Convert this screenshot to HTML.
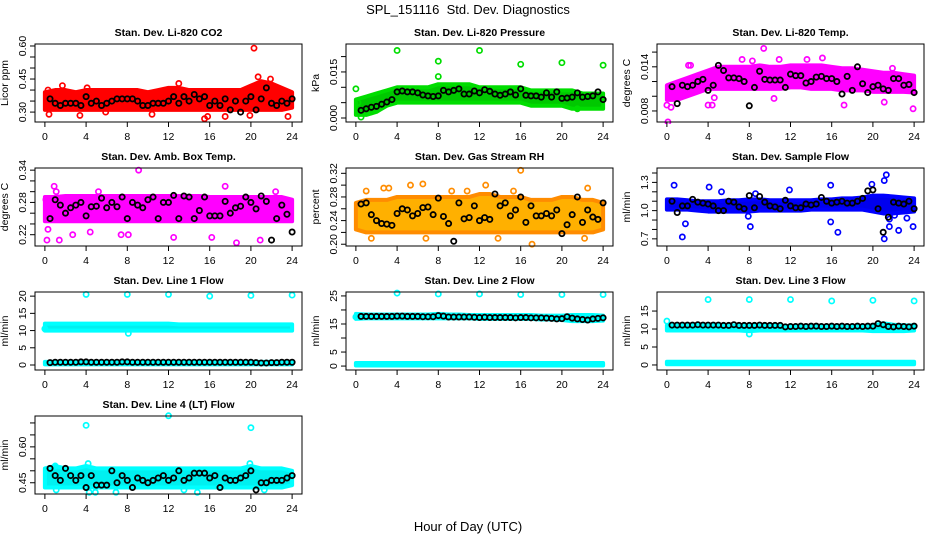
<!DOCTYPE html>
<html><head><meta charset="utf-8">
<style>
html,body{margin:0;padding:0;background:#fff;}
svg{display:block;font-family:"Liberation Sans",sans-serif;}
</style></head>
<body>
<svg id="chart" width="936" height="540" viewBox="0 0 936 540" xmlns="http://www.w3.org/2000/svg">
<text x="468" y="14" text-anchor="middle" font-size="13" style="white-space:pre">SPL_151116  Std. Dev. Diagnostics</text>
<text x="468" y="531" text-anchor="middle" font-size="13">Hour of Day (UTC)</text>
</svg>
<script>
// ---------- data (estimated from reference) ----------
const hours = [0,1,2,3,4,5,6,7,8,9,10,11,12,13,14,15,16,17,18,19,20,21,22,23,24];
const xTicks = [0,4,8,12,16,20,24];

const co2Lo = [0.31,0.31,0.31,0.31,0.31,0.31,0.31,0.31,0.31,0.31,0.31,0.31,0.31,0.31,0.31,0.31,0.31,0.31,0.31,0.31,0.31,0.31,0.31,0.31,0.32];
const co2Hi = [0.39,0.40,0.40,0.39,0.40,0.40,0.40,0.40,0.40,0.40,0.39,0.40,0.41,0.41,0.40,0.40,0.40,0.40,0.40,0.40,0.42,0.44,0.43,0.41,0.39];
const co2OutX = [20.3,0.3,0.4,3.4,15.5,15.8,17.5,19.9,23.6,4.1,1.7,13.0,20.7,21.9,5.9,10.4];
const co2OutY = [0.59,0.40,0.29,0.285,0.27,0.28,0.28,0.285,0.28,0.41,0.42,0.43,0.46,0.45,0.30,0.29];
const co2Black = [null,0.36,0.34,0.33,0.34,0.34,0.34,0.33,0.37,0.34,0.35,0.33,0.34,0.35,0.36,0.36,0.36,0.36,0.35,0.33,0.33,0.34,0.34,0.34,0.35,0.37,0.34,0.37,0.35,0.38,0.36,0.37,0.33,0.35,0.33,0.36,0.31,0.35,0.30,0.35,0.37,0.31,0.36,0.41,0.34,0.33,0.35,0.34,0.36];

const presLo = [0.001,0.001,0.002,0.004,0.005,0.005,0.005,0.005,0.005,0.005,0.005,0.005,0.005,0.005,0.005,0.005,0.005,0.004,0.004,0.004,0.004,0.003,0.003,0.003,0.003];
const presHi = [0.006,0.007,0.008,0.009,0.010,0.010,0.010,0.010,0.011,0.011,0.011,0.011,0.010,0.010,0.010,0.010,0.010,0.009,0.009,0.009,0.009,0.009,0.008,0.008,0.008];
const presOutX = [4,12,8,8,16,20,24,0,0.5,21.5,1.5,0.2];
const presOutY = [0.022,0.022,0.0185,0.0135,0.0175,0.018,0.0172,0.0095,0.0003,0.003,0.002,0.005];
const presBlack = [null,0.0025,0.003,0.0035,0.0038,0.0045,0.0052,0.006,0.0085,0.0088,0.0085,0.0085,0.0082,0.0075,0.0072,0.007,0.0072,0.009,0.0085,0.009,0.0095,0.0078,0.0078,0.0088,0.0082,0.0092,0.0087,0.0078,0.0074,0.0078,0.0085,0.0075,0.0095,0.0074,0.0072,0.0072,0.0068,0.0082,0.0068,0.0085,0.0064,0.0065,0.0068,0.0082,0.0068,0.0070,0.0072,0.0085,0.006];

const tmpLo = [0.0095,0.0095,0.0100,0.0105,0.0110,0.0110,0.0110,0.0110,0.0110,0.0110,0.0110,0.0110,0.0112,0.0112,0.0110,0.0110,0.0110,0.0108,0.0108,0.0108,0.0106,0.0106,0.0106,0.0106,0.0105];
const tmpHi = [0.0115,0.0120,0.0125,0.0130,0.0135,0.0140,0.0140,0.0140,0.0140,0.0142,0.0140,0.0140,0.0142,0.0142,0.0142,0.0142,0.0140,0.0138,0.0138,0.0136,0.0134,0.0132,0.0132,0.0130,0.0128];
const tmpOutX = [0.1,0,0.4,9.4,4,4.4,4.6,7.3,10.9,13.6,15.1,23.9,17.2,21.1,10.4,21.9,2.1,2.3,8.3];
const tmpOutY = [0.0065,0.0088,0.0085,0.0165,0.0088,0.0088,0.0098,0.0150,0.0150,0.0150,0.0152,0.0083,0.0088,0.0092,0.0097,0.0138,0.0142,0.0142,0.0148];
const tmpBlack = [null,0.0113,0.0090,0.0115,0.0113,0.0115,0.0120,0.0123,0.0108,0.0115,0.0142,0.0135,0.0125,0.0125,0.0124,0.0120,0.0087,0.0112,0.0134,0.0123,0.0122,0.0122,0.0122,0.0112,0.0130,0.0128,0.0128,0.0118,0.0120,0.0126,0.0127,0.0124,0.0124,0.0120,0.0103,0.0127,0.0108,0.0140,0.0117,0.0105,0.0113,0.0115,0.0110,0.0108,0.0124,0.0124,0.0115,0.0116,0.0105];

const ambLo = [0.245,0.245,0.245,0.245,0.245,0.245,0.245,0.245,0.245,0.245,0.245,0.245,0.245,0.245,0.245,0.245,0.245,0.245,0.245,0.245,0.245,0.245,0.245,0.245,0.245];
const ambHi = [0.290,0.290,0.292,0.292,0.292,0.292,0.292,0.292,0.292,0.292,0.292,0.292,0.292,0.292,0.292,0.292,0.290,0.290,0.290,0.290,0.290,0.290,0.290,0.290,0.285];
const ambOutX = [0.2,0.9,1.1,9.1,1.4,2.7,17.5,18.6,12.5,16.2,20.9,4.4,7.4,8.1,22.4,5.2,0.3,0.1];
const ambOutY = [0.21,0.31,0.30,0.34,0.21,0.22,0.31,0.205,0.215,0.215,0.21,0.225,0.22,0.22,0.30,0.30,0.23,0.285];
const ambBlack = [null,0.250,0.285,0.275,0.260,0.270,0.275,0.280,0.255,0.272,0.273,0.288,0.270,0.280,0.272,0.290,0.250,0.280,0.275,0.270,0.285,0.290,0.250,0.280,0.280,0.293,0.250,0.292,0.290,0.250,0.265,0.290,0.255,0.255,0.255,0.282,0.260,0.270,0.273,0.290,0.280,0.268,0.292,0.282,0.210,0.250,0.275,0.258,0.225];

const rhLo = [0.225,0.22,0.22,0.22,0.22,0.22,0.22,0.22,0.22,0.22,0.22,0.22,0.22,0.22,0.22,0.22,0.22,0.22,0.22,0.22,0.22,0.22,0.22,0.22,0.225];
const rhHi = [0.270,0.275,0.275,0.275,0.280,0.280,0.280,0.280,0.280,0.280,0.280,0.280,0.285,0.285,0.280,0.280,0.280,0.275,0.275,0.275,0.280,0.280,0.275,0.275,0.270];
const rhOutX = [16,17.1,5.3,6.5,12.6,22.5,2.7,3.2,9.3,10.8,1.0,15.3,1.5,6.8,13.8,22.2];
const rhOutY = [0.325,0.20,0.30,0.302,0.30,0.295,0.295,0.295,0.29,0.29,0.29,0.29,0.21,0.21,0.21,0.21];
const rhBlack = [null,0.268,0.270,0.250,0.240,0.235,0.234,0.232,0.252,0.260,0.258,0.248,0.252,0.262,0.263,0.250,0.278,0.247,0.235,0.205,0.270,0.243,0.245,0.265,0.240,0.245,0.242,0.285,0.265,0.270,0.248,0.258,0.280,0.237,0.265,0.248,0.248,0.252,0.248,0.258,0.218,0.233,0.250,0.280,0.237,0.258,0.246,0.242,0.270];

const flowLo = [1.01,1.01,1.01,1.00,0.99,0.99,0.99,0.99,0.99,1.00,1.00,1.00,1.00,1.00,1.01,1.01,1.01,1.01,1.01,1.01,0.99,0.97,0.97,0.98,0.99];
const flowHi = [1.12,1.12,1.11,1.10,1.10,1.10,1.11,1.11,1.12,1.12,1.11,1.11,1.11,1.11,1.11,1.12,1.12,1.13,1.13,1.14,1.16,1.16,1.15,1.14,1.13];
const flowOutX = [0.7,1.5,1.8,4.1,5.3,7.9,8.1,8.6,11.9,15.9,15.9,16.6,19.9,21.1,21.3,21.1,21.6,22.5,23.9,22.1,23.3,21.6];
const flowOutY = [1.27,0.72,0.86,1.25,1.20,0.94,0.83,1.18,1.22,1.27,0.88,0.77,1.28,1.32,1.38,0.70,0.83,0.79,0.83,0.95,0.92,0.91];
const flowBlack = [null,1.10,0.98,1.05,1.05,1.12,1.09,1.08,1.07,1.05,1.00,1.00,1.10,1.09,1.04,1.02,1.16,1.03,1.15,1.09,1.05,1.04,1.02,1.11,1.05,1.03,1.03,1.07,1.06,1.07,1.14,1.10,1.08,1.09,1.10,1.08,1.08,1.10,1.13,1.21,1.22,1.02,0.77,0.93,1.09,1.08,1.07,1.10,1.02];

const l1Lo = [10,10,10,10,10,10,10,10,10,10,10,10,10,10,10,10,10,10,10,10,10,10,10,10,10];
const l1Hi = [12,12,12,12,12,12,12,12,12,12,12,12,12,11.8,11.8,11.8,11.8,11.8,11.8,11.8,11.8,11.8,11.8,11.8,11.8];
const l1Lo2 = [0.2,0.2,0.2,0.2,0.2,0.2,0.2,0.2,0.2,0.2,0.2,0.2,0.2,0.2,0.2,0.2,0.2,0.2,0.2,0.2,0.2,0.2,0.2,0.2,0.2];
const l1Hi2 = [0.9,0.9,0.9,0.9,0.9,0.9,0.9,0.9,0.9,0.9,0.9,0.9,0.9,0.9,0.9,0.9,0.9,0.9,0.9,0.9,0.9,0.9,0.9,0.9,0.9];
const l1OutX = [4,8,12,16,20,24,8.1,0];
const l1OutY = [20.5,20.5,20.5,20,20.2,20.3,9.2,10.5];
const l1Black = [null,0.7,0.8,0.8,0.8,0.8,0.8,0.9,0.9,0.8,0.8,0.8,0.8,0.8,0.8,0.9,0.9,0.8,0.8,0.8,0.8,0.8,0.8,0.8,0.8,0.8,0.8,0.8,0.8,0.8,0.8,0.8,0.8,0.8,0.8,0.8,0.8,0.8,0.8,0.8,0.8,0.7,0.6,0.6,0.7,0.7,0.8,0.8,0.8];

const l2Lo = [16.8,17,17,17,17,17,17,17,17,17,17,17,16.8,16.8,16.8,16.8,16.8,16.8,16.6,16.6,16.4,16,16,16,16.2];
const l2Hi = [18.6,18.4,18.4,18.4,18.4,18.4,18.4,18.4,18.6,18.4,18.4,18.2,18.2,18.2,18.2,18.2,18.2,18.2,18.0,18.0,18.0,18.2,18.2,18.2,18.0];
const l2Lo2 = [0.2,0.2,0.2,0.2,0.2,0.2,0.2,0.2,0.2,0.2,0.2,0.2,0.2,0.2,0.2,0.2,0.2,0.2,0.2,0.2,0.2,0.2,0.2,0.2,0.2];
const l2Hi2 = [1.1,1.1,1.1,1.1,1.1,1.1,1.1,1.1,1.1,1.1,1.1,1.1,1.1,1.1,1.1,1.1,1.1,1.1,1.1,1.1,1.1,1.1,1.1,1.1,1.1];
const l2OutX = [4,8,12,16,20,24,0];
const l2OutY = [26,25.7,25.7,25.5,25.5,25.5,17.5];
const l2Black = [null,17.7,17.7,17.7,17.7,17.7,17.7,17.7,17.8,17.8,17.7,17.7,17.7,17.6,17.6,17.6,18.0,17.8,17.5,17.5,17.5,17.5,17.5,17.4,17.3,17.4,17.3,17.3,17.3,17.3,17.3,17.2,17.3,17.3,17.2,17.2,17.2,17.1,17.0,16.8,16.9,17.6,17.1,16.8,16.6,16.4,16.8,17.0,17.2];

const l3Lo = [9.6,9.6,9.6,9.6,9.6,9.6,9.6,9.6,9.4,9.6,9.6,9.6,9.6,9.6,9.6,9.6,9.6,9.6,9.6,9.6,9.4,9.4,9.4,9.4,9.6];
const l3Hi = [11,11,11,11.2,11.2,11.2,11,11,11,11,11,10.8,10.8,10.8,10.8,10.8,10.8,10.8,10.8,10.8,11,11.6,11.2,11,11];
const l3Lo2 = [0.2,0.2,0.2,0.2,0.2,0.2,0.2,0.2,0.2,0.2,0.2,0.2,0.2,0.2,0.2,0.2,0.2,0.2,0.2,0.2,0.2,0.2,0.2,0.2,0.2];
const l3Hi2 = [0.9,0.9,0.9,0.9,0.9,0.9,0.9,0.9,0.9,0.9,0.9,0.9,0.9,0.9,0.9,0.9,0.9,0.9,0.9,0.9,0.9,0.9,0.9,0.9,0.9];
const l3OutX = [4,8,12,16,20,24,8,0];
const l3OutY = [18.2,18.2,18.2,17.8,18,17.8,8.6,12.2];
const l3Black = [null,11.1,11.1,11.1,11.1,11.1,11.2,11.1,11.1,11.1,11.1,11.0,11.0,11.2,11.0,11.0,11.0,11.0,11.1,11.0,11.0,11.0,11.0,10.6,10.7,10.7,10.8,10.7,10.8,10.8,10.7,10.7,10.8,10.7,10.8,10.7,10.7,10.8,10.7,10.8,10.8,11.5,11.2,10.7,10.6,10.8,10.7,10.6,10.8];

const l4Lo = [0.43,0.43,0.43,0.43,0.43,0.43,0.43,0.43,0.43,0.43,0.43,0.43,0.43,0.43,0.43,0.43,0.43,0.43,0.43,0.43,0.43,0.43,0.43,0.43,0.44];
const l4Hi = [0.51,0.52,0.51,0.51,0.52,0.51,0.51,0.51,0.51,0.51,0.51,0.51,0.51,0.51,0.51,0.51,0.51,0.51,0.51,0.51,0.52,0.51,0.51,0.51,0.50];
const l4OutX = [4,12,20,1.1,4.3,4.9,6.9,13.5,14.8,21.3,4.2,19.9,1.0];
const l4OutY = [0.69,0.73,0.68,0.42,0.41,0.41,0.41,0.42,0.41,0.42,0.53,0.53,0.52];
const l4Black = [null,0.51,0.48,0.46,0.51,0.48,0.46,0.48,0.43,0.48,0.44,0.44,0.44,0.50,0.45,0.48,0.46,0.43,0.47,0.46,0.45,0.46,0.47,0.48,0.46,0.47,0.50,0.46,0.47,0.49,0.49,0.49,0.47,0.48,0.43,0.47,0.46,0.46,0.47,0.48,0.50,0.42,0.45,0.45,0.46,0.46,0.46,0.47,0.48];

// ---------- panels (styling/layout only) ----------
const panels = [
 {col:0,row:0,title:"Stan. Dev. Li-820 CO2",ylab:"Licor ppm",ymin:0.255,ymax:0.609,ticks:[0.30,0.35,0.40,0.45,0.50,0.55,0.60],labels:[0.30,0.45,0.60],dec:2,color:"#ff0000",fill:"#ff0000",bands:[[co2Lo,co2Hi]],ox:co2OutX,oy:co2OutY,black:co2Black},
 {col:1,row:0,title:"Stan. Dev. Li-820 Pressure",ylab:"kPa",ymin:-0.0013,ymax:0.0241,ticks:[0,0.005,0.010,0.015,0.020],labels:[0,0.015],dec:3,color:"#00dd00",fill:"#00c800",bands:[[presLo,presHi]],ox:presOutX,oy:presOutY,black:presBlack},
 {col:2,row:0,title:"Stan. Dev. Li-820 Temp.",ylab:"degrees C",ymin:0.0065,ymax:0.0171,ticks:[0.008,0.010,0.012,0.014,0.016],labels:[0.008,0.014],dec:3,color:"#ff00ff",fill:"#ff00ff",bands:[[tmpLo,tmpHi]],ox:tmpOutX,oy:tmpOutY,black:tmpBlack},
 {col:0,row:1,title:"Stan. Dev. Amb. Box Temp.",ylab:"degrees C",ymin:0.199,ymax:0.344,ticks:[0.22,0.24,0.26,0.28,0.30,0.32,0.34],labels:[0.22,0.28,0.34],dec:2,color:"#ff00ff",fill:"#ff00ff",bands:[[ambLo,ambHi]],ox:ambOutX,oy:ambOutY,black:ambBlack},
 {col:1,row:1,title:"Stan. Dev. Gas Stream RH",ylab:"percent",ymin:0.197,ymax:0.329,ticks:[0.20,0.22,0.24,0.26,0.28,0.30,0.32],labels:[0.20,0.24,0.28,0.32],dec:2,color:"#ff8c00",fill:"#ffb000",bands:[[rhLo,rhHi]],ox:rhOutX,oy:rhOutY,black:rhBlack},
 {col:2,row:1,title:"Stan. Dev. Sample Flow",ylab:"ml/min",ymin:0.624,ymax:1.453,ticks:[0.7,0.8,0.9,1.0,1.1,1.2,1.3,1.4],labels:[0.7,1.0,1.3],dec:1,color:"#0000ff",fill:"#0000ee",bands:[[flowLo,flowHi]],ox:flowOutX,oy:flowOutY,black:flowBlack},
 {col:0,row:2,title:"Stan. Dev. Line 1 Flow",ylab:"ml/min",ymin:-1.45,ymax:21.2,ticks:[0,5,10,15,20],labels:[0,5,10,15,20],dec:0,color:"#00ffff",fill:"#00f0f0",bands:[[l1Lo,l1Hi],[l1Lo2,l1Hi2]],ox:l1OutX,oy:l1OutY,black:l1Black},
 {col:1,row:2,title:"Stan. Dev. Line 2 Flow",ylab:"ml/min",ymin:-1.4,ymax:26.4,ticks:[0,5,10,15,20,25],labels:[0,5,15,25],dec:0,color:"#00ffff",fill:"#00f0f0",bands:[[l2Lo,l2Hi],[l2Lo2,l2Hi2]],ox:l2OutX,oy:l2OutY,black:l2Black},
 {col:2,row:2,title:"Stan. Dev. Line 3 Flow",ylab:"ml/min",ymin:-1.4,ymax:20.3,ticks:[0,5,10,15],labels:[0,5,10,15],dec:0,color:"#00ffff",fill:"#00f0f0",bands:[[l3Lo,l3Hi],[l3Lo2,l3Hi2]],ox:l3OutX,oy:l3OutY,black:l3Black},
 {col:0,row:3,title:"Stan. Dev. Line 4 (LT) Flow",ylab:"ml/min",ymin:0.403,ymax:0.729,ticks:[0.45,0.50,0.55,0.60,0.65,0.70],labels:[0.45,0.60],dec:2,color:"#00ffff",fill:"#00f0f0",bands:[[l4Lo,l4Hi]],ox:l4OutX,oy:l4OutY,black:l4Black}
];

const NS="http://www.w3.org/2000/svg";
const svg=document.getElementById('chart');
function mk(tag,attrs,parent){const e=document.createElementNS(NS,tag);for(const k in attrs)e.setAttribute(k,attrs[k]);parent.appendChild(e);return e;}

panels.forEach((p,pi)=>{
  const L=p.col*311+35, R=L+267, T=44+p.row*124, B=T+78;
  const xs=v=>L+(v+0.96)/25.92*(R-L);
  const ys=v=>B-(v-p.ymin)/(p.ymax-p.ymin)*(B-T);
  const g=mk('g',{},svg);
  
  
  const clip=mk('clipPath',{id:'c'+pi},g);
  mk('rect',{x:L,y:T-6,width:R-L+6,height:B-T+8},clip);
  const plot=mk('g',{'clip-path':'url(#c'+pi+')'},g);
  
  
  p.bands.forEach(b=>{
    const lo=b[0],hi=b[1];
    let pts=hours.map((h,i)=>xs(h)+','+ys(hi[i]));
    pts=pts.concat(hours.slice().reverse().map((h,j)=>{const i=hours.length-1-j;return xs(h)+','+ys(lo[i]);}));
    const poly=mk('polygon',{points:pts.join(' '),fill:p.fill,stroke:p.color,'stroke-width':4,'stroke-linejoin':'round'},plot);
    
    
  });
  p.ox.forEach((x,i)=>{
    const c=mk('circle',{cx:xs(x),cy:ys(p.oy[i]),r:2.6,fill:'none',stroke:p.color,'stroke-width':1.7},plot);
    
    
  });
  p.black.forEach((v,i)=>{
    if(v===null)return;
    const c=mk('circle',{cx:xs(i*0.5),cy:ys(v),r:2.6,fill:'none',stroke:'#000','stroke-width':1.8},plot);
    
    
  });
  const box=mk('rect',{x:L,y:T,width:R-L,height:B-T,fill:'none',stroke:'#000','stroke-width':1},g);
  
  
  const t=mk('text',{x:(L+R)/2,y:T-8,'text-anchor':'middle','font-size':10.5,'font-weight':'bold'},g);
  t.textContent=p.title;
  
  
  xTicks.forEach(v=>{
    mk('line',{x1:xs(v),x2:xs(v),y1:B,y2:B+5,stroke:'#000'},g);
    const tx=mk('text',{x:xs(v),y:B+18,'text-anchor':'middle','font-size':10.5},g);
    tx.textContent=v;
    
    
  });
  p.ticks.forEach(v=>{
    mk('line',{x1:L-5,x2:L,y1:ys(v),y2:ys(v),stroke:'#000'},g);
  });
  p.labels.forEach(v=>{
    const yy=ys(v), xx=L-9;
    const ty=mk('text',{x:xx,y:yy,'text-anchor':'middle','font-size':10.5,transform:'rotate(-90 '+xx+' '+yy+')'},g);
    ty.textContent=v.toFixed(p.dec);
    
    
  });
  const yl=L-27, ym=(T+B)/2;
  const yt=mk('text',{x:yl,y:ym,'text-anchor':'middle','font-size':10.5,transform:'rotate(-90 '+yl+' '+ym+')'},g);
  yt.textContent=p.ylab;
  
  
});
</script>
</body></html>
